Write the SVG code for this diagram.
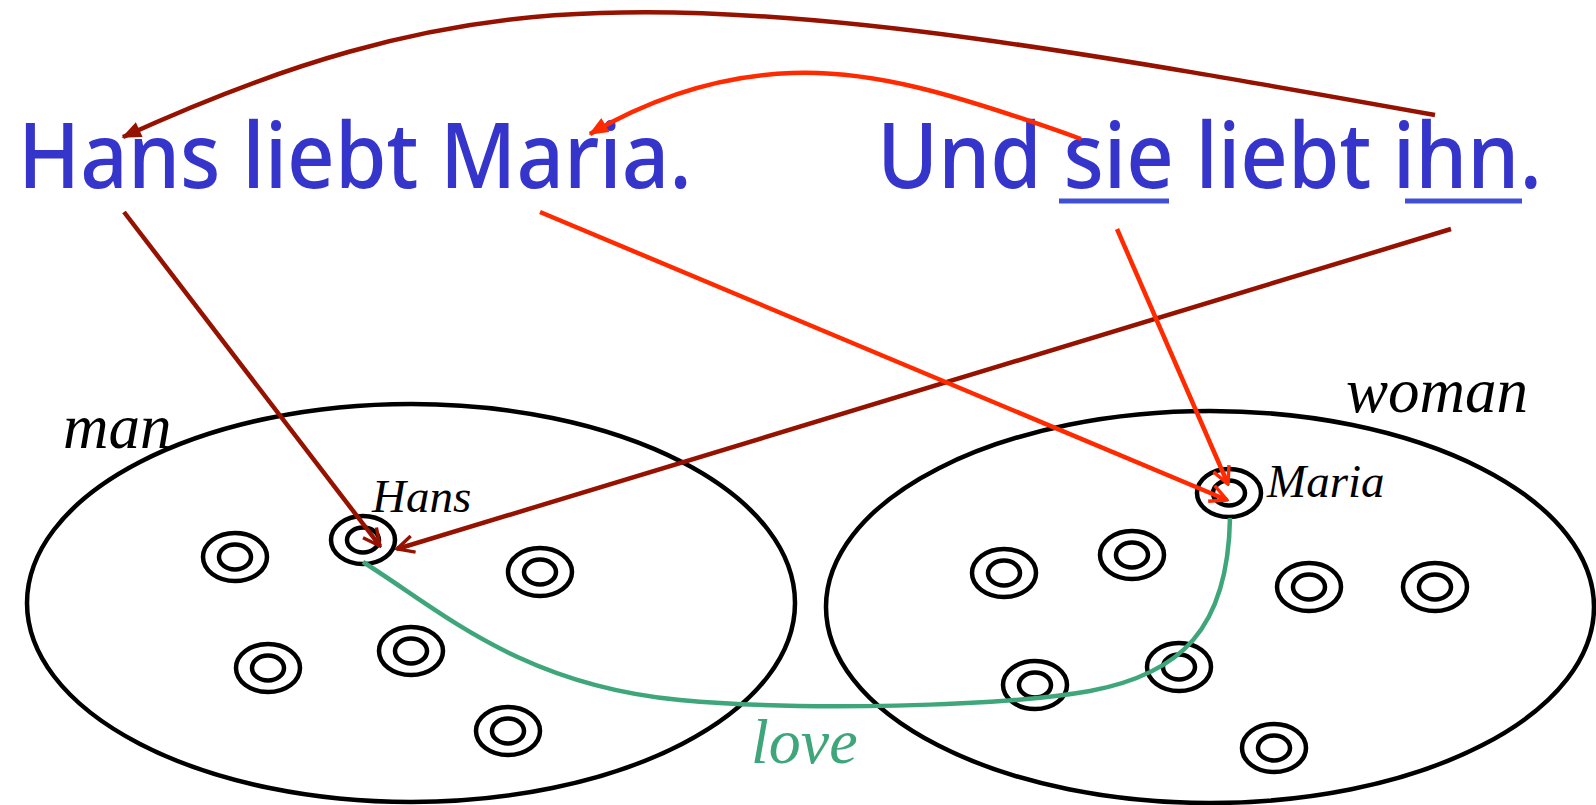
<svg xmlns="http://www.w3.org/2000/svg" width="1596" height="805" viewBox="0 0 1596 805">
<defs>
<style>
.big{font-family:"Comic Sans MS","Noto Sans",sans-serif;font-size:90px;font-weight:500;fill:#3535cc}
.lab{font-family:"Liberation Serif",serif;font-style:italic;fill:#000}
.set{fill:none;stroke:#000;stroke-width:4.5}
.el{fill:none;stroke:#000;stroke-width:4.5}
.dr{fill:none;stroke:#961200;stroke-width:4.5}
.rd{fill:none;stroke:#ff2a00;stroke-width:4.5}
.ul{stroke:#4050d4;stroke-width:5}
</style>
<marker id="fdr" viewBox="0 0 12 10" refX="11" refY="5" markerWidth="4.5" markerHeight="3.6" orient="auto" markerUnits="strokeWidth"><path d="M0,0 L12,5 L0,10 Z" fill="#961200"/></marker>
<marker id="frd" viewBox="0 0 12 10" refX="11" refY="5" markerWidth="4.5" markerHeight="3.6" orient="auto" markerUnits="strokeWidth"><path d="M0,0 L12,5 L0,10 Z" fill="#ff2a00"/></marker>
<marker id="odr" viewBox="0 0 12 12" refX="11" refY="6" markerWidth="4.5" markerHeight="4.5" orient="auto" markerUnits="strokeWidth"><path d="M1,1 L11,6 L1,11" fill="none" stroke="#961200" stroke-width="2"/></marker>
<marker id="ord" viewBox="0 0 12 12" refX="11" refY="6" markerWidth="4.5" markerHeight="4.5" orient="auto" markerUnits="strokeWidth"><path d="M1,1 L11,6 L1,11" fill="none" stroke="#ff2a00" stroke-width="2"/></marker>
<g id="dot"><ellipse rx="32" ry="24" class="el"/><ellipse rx="16" ry="12.5" class="el"/></g>
</defs>
<rect width="1596" height="805" fill="#fff"/>
<g id="sentence1"><text class="big" x="18" y="188" textLength="674" lengthAdjust="spacingAndGlyphs">Hans liebt Maria.</text></g>
<g id="sentence2"><text class="big" x="877" y="188" textLength="665" lengthAdjust="spacingAndGlyphs">Und sie liebt ihn.</text>
<line class="ul" x1="1059" y1="201" x2="1169" y2="201"/><line class="ul" x1="1405" y1="201" x2="1522" y2="201"/></g>
<g id="man-set"><ellipse class="set" cx="411" cy="603" rx="384" ry="199"/><text class="lab" x="63" y="448" font-size="63">man</text>
<use href="#dot" x="235" y="557"/><use href="#dot" x="540" y="572"/><use href="#dot" x="268" y="668"/><use href="#dot" x="411" y="651"/><use href="#dot" x="508" y="731"/></g>
<g id="hans"><use href="#dot" x="363" y="540"/><text class="lab" x="372" y="512" font-size="47">Hans</text></g>
<g id="woman-set"><ellipse class="set" cx="1210" cy="607" rx="384" ry="196"/><text class="lab" x="1346" y="412" font-size="63">woman</text>
<use href="#dot" x="1004" y="573"/><use href="#dot" x="1132" y="555"/><use href="#dot" x="1309" y="587"/><use href="#dot" x="1435" y="587"/><use href="#dot" x="1035" y="685"/><use href="#dot" x="1179" y="667"/><use href="#dot" x="1274" y="748"/></g>
<g id="maria"><use href="#dot" x="1229" y="493"/><text class="lab" x="1267" y="497" font-size="47">Maria</text></g>
<g id="connectors">
<path class="dr" d="M1435,115 C1100,55 820,5 600,13 C420,18 270,70 123,137" marker-end="url(#fdr)"/>
<path class="rd" d="M1081,139 C950,92 870,70 792,73 C712,76 645,102 590,134" marker-end="url(#frd)"/>
<line class="dr" x1="124" y1="212" x2="380" y2="546" marker-end="url(#odr)"/>
<line class="dr" x1="1451" y1="229" x2="397" y2="549" marker-end="url(#odr)"/>
<line class="rd" x1="540" y1="212" x2="1227" y2="500" marker-end="url(#ord)"/>
<line class="rd" x1="1117" y1="229" x2="1228" y2="484" marker-end="url(#ord)"/>
<path d="M363,562 C440,610 520,685 680,700 C800,711 1000,707 1090,691 C1180,674 1228,630 1230,518" fill="none" stroke="#3ea67a" stroke-width="4.5"/>
<text class="lab" x="751" y="763" font-size="64" style="fill:#3ea67a">love</text>
</g>
</svg>
